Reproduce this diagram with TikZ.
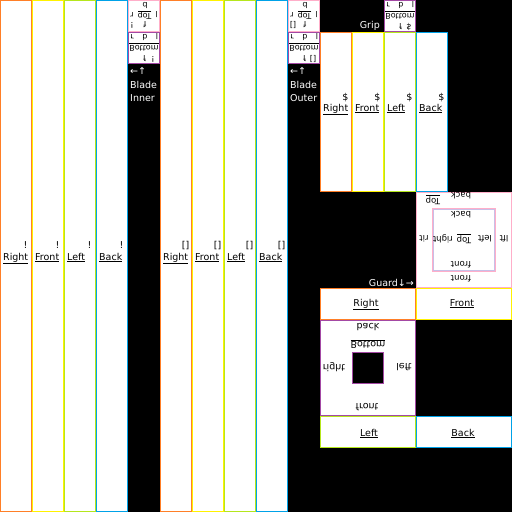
\documentclass[tikz,border=0pt]{standalone}
\usepackage{fontspec}
\setmainfont{DejaVu Sans}
\definecolor{cO}{HTML}{FF7F27}
\definecolor{cY}{HTML}{FFF200}
\definecolor{cL}{HTML}{B5E61D}
\definecolor{cB}{HTML}{00A2E8}
\definecolor{cP}{HTML}{FFAEC9}
\definecolor{cU}{HTML}{A349A4}
\definecolor{cV}{HTML}{C8BFE7}
\newcommand\fbx[5]{\filldraw[fill=white,draw=#5,line width=1pt] ({#1+0.5},{#2+0.5}) rectangle ({#3-0.5},{#4-0.5});}
\begin{document}
\begin{tikzpicture}[x=1pt,y=-1pt,
  word/.style={font=\fontsize{9.5}{10}\selectfont,inner sep=0pt},
  gword/.style={font=\fontsize{8.5}{9}\selectfont,inner sep=0pt},
  sm/.style={font=\fontsize{8}{8}\selectfont,inner sep=0pt},
  wt/.style={word,text=white},
  rot/.style={rotate=180},
  flip/.style={yscale=-1}]
\useasboundingbox (0,0) rectangle (512,512);
\fill[black] (0,0) rectangle (512,512);
% blade columns
\foreach \x/\c/\w/\m in {0/cO/Right/!,32/cY/Front/!,64/cL/Left/!,96/cB/Back/!,160/cO/Right/[],192/cY/Front/[],224/cL/Left/[],256/cB/Back/[]}{
  \fbx{\x}{0}{\x+32}{512}{\c}
  \node[word,anchor=base west] (bw\x) at ({\x+3},260) {\underline{\w}};
  \node[word,anchor=base] (bm\x) at ({\x+25.5},248) {\m};
}
% grip columns
\foreach \x/\c/\w in {320/cO/Right,352/cY/Front,384/cL/Left,416/cB/Back}{
  \fbx{\x}{32}{\x+32}{192}{\c}
  \node[word,anchor=base west] (gw\x) at ({\x+3},111) {\underline{\w}};
  \node[word,anchor=base] (gm\x) at ({\x+25.5},100) {\$};
}
% top boxes
\foreach \ox/\m/\mx in {128/!/132,288/[]/293}{
  \fbx{\ox}{0}{\ox+32}{32}{cP}
  \node[sm,rot] (tb\ox) at ({\ox+17},5) {b};
  \node[sm,rot] (tr\ox) at ({\ox+4},15) {r};
  \node[sm,rot] (tt\ox) at ({\ox+16.5},15) {\underline{Top}};
  \node[sm,rot] (tl\ox) at ({\ox+28.5},15) {l};
  \node[sm,rot] (tm\ox) at (\mx,25) {\m};
  \node[sm,rot] (tf\ox) at ({\ox+17},25) {f};
}
% bottom boxes
\foreach \ox/\oy/\m/\mx in {128/32/!/153,288/32/[]/313,384/0/\$/409}{
  \fbx{\ox}{\oy}{\ox+32}{\oy+32}{cU}
  \node[sm,flip] (ur\ox) at ({\ox+4},{\oy+5}) {r};
  \node[sm,flip] (ub\ox) at ({\ox+17},{\oy+5}) {b};
  \node[sm,flip] (ul\ox) at ({\ox+29},{\oy+5}) {l};
  \node[sm,flip] (uo\ox) at ({\ox+16},{\oy+15}) {\underline{Bottom}};
  \node[sm,flip] (uf\ox) at ({\ox+16.5},{\oy+27}) {f};
  \node[sm,flip] (um\ox) at (\mx,{\oy+27}) {\m};
}
% blade labels
\node[wt,anchor=base west] (ia) at (130,74) {←↑};
\node[wt,anchor=base west] (ib) at (130,88) {Blade};
\node[wt,anchor=base west] (ic) at (130,101) {Inner};
\node[wt,anchor=base west] (oa) at (290,74) {←↑};
\node[wt,anchor=base west] (ob) at (290,88) {Blade};
\node[wt,anchor=base west] (oc) at (290,101) {Outer};
\node[wt,anchor=base east] (grip) at (380,28) {Grip};
\node[wt,anchor=base east] (guard) at (414,286) {Guard↓→};
% guard sides
\fbx{320}{288}{416}{320}{cO}
\fbx{416}{288}{512}{320}{cY}
\fbx{320}{416}{416}{448}{cL}
\fbx{416}{416}{512}{448}{cB}
\node[word,anchor=base] (sr) at (366,306) {\underline{Right}};
\node[word,anchor=base] (sf) at (462,306) {\underline{Front}};
\node[word,anchor=base] (sl) at (369,436) {\underline{Left}};
\node[word,anchor=base] (sb) at (463,436) {\underline{Back}};
% guard top
\fbx{416}{192}{512}{288}{cP}
\draw[cP,line width=1pt] (432.5,208.5) rectangle (495.5,271.5);
\draw[cV,line width=1pt] (433.5,209.5) rectangle (494.5,270.5);
\node[gword,rot] (gtb) at (461,196) {back};
\node[gword,rot] (gtt) at (433,200) {\underline{Top}};
\node[gword,rot] (gib) at (461,215) {back};
\node[gword,rot] (grt) at (424,239) {rit};
\node[gword,rot] (grr) at (443,239) {right};
\node[gword,rot] (gtp) at (464,239) {\underline{Top}};
\node[gword,rot] (gle) at (485,239) {left};
\node[gword,rot] (glf) at (504,239) {lft};
\node[gword,rot] (gif) at (461,265) {front};
\node[gword,rot] (gof) at (461,279) {front};
% guard bottom
\fbx{320}{320}{416}{416}{cU}
\filldraw[fill=black,draw=cU,line width=1pt] (352.5,352.5) rectangle (383.5,383.5);
\node[word,flip] (bba) at (368,327) {back};
\node[word,flip] (bbo) at (368,344) {\underline{Bottom}};
\node[word,flip] (bri) at (334,367) {right};
\node[word,flip] (ble) at (404,367) {left};
\node[word,flip] (bfr) at (367,407) {front};
\end{tikzpicture}
\end{document}
